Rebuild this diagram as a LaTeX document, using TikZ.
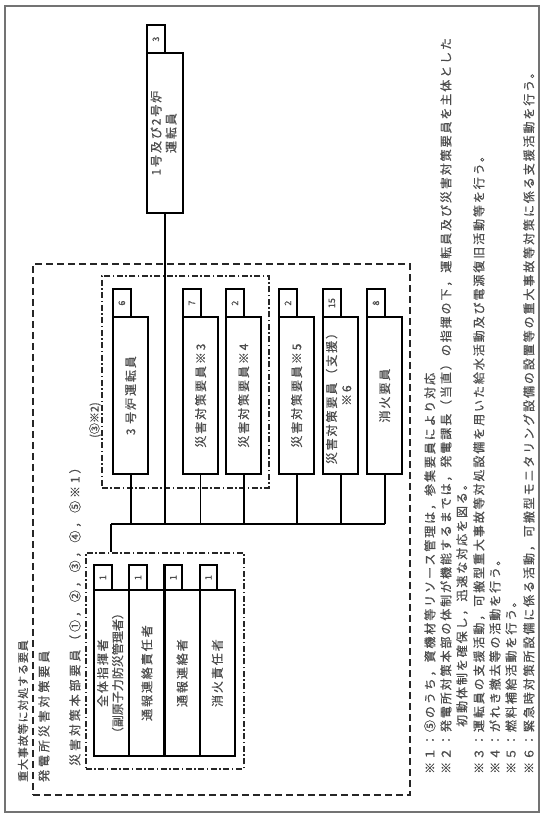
\documentclass[tikz,border=0pt]{standalone}
\usepackage{fontspec}
\newfontfamily\jpA{Noto Sans CJK JP}[LetterSpace=16,FakeBold=0.6]
\newfontfamily\jpB{Noto Sans CJK JP}[LetterSpace=24,FakeBold=0.6]
\newfontfamily\jpT{Noto Sans CJK JP}[LetterSpace=8,FakeBold=0.6]
\newfontfamily\jpN{Noto Sans CJK JP}[FakeBold=0.6]
\definecolor{txt}{gray}{0.3}
\newcommand\rt[1]{\rotatebox{90}{#1}}
\newcommand\rtt[2]{\rotatebox{90}{\begin{tabular}{@{}c@{}}#1\\#2\end{tabular}}}
\begin{document}
\begin{tikzpicture}[x=1pt,y=-1pt,
  pageframe/.style={draw=black!55,line width=1.2pt},
  outergrp/.style={draw=black!85,line width=1.8pt,dash pattern=on 7pt off 4pt},
  dotgrp/.style={draw=black!85,line width=1.5pt,dash pattern=on 6pt off 2.5pt on 1.5pt off 2.5pt},
  mainbox/.style={draw=black,line width=2.2pt,inner sep=0pt,anchor=north west,
     minimum width=35pt,minimum height=157pt,text=txt,font=\jpA\fontsize{12}{15}\selectfont},
  tabbox/.style={draw=black,line width=2.2pt,inner sep=0pt,anchor=north west,
     minimum width=17.5pt,minimum height=28pt,text=txt,font=\jpN\fontsize{9}{10}\selectfont},
  lowbox/.style={mainbox,minimum width=35.2pt,minimum height=166pt},
  lowtab/.style={tabbox,minimum width=17.6pt,minimum height=25pt},
  rotlbl/.style={rotate=90,anchor=west,inner sep=0pt,text=txt},
  note/.style={rotlbl,font=\jpA\fontsize{12}{15}\selectfont},
  conn/.style={draw=black,line width=2.2pt},
  thinconn/.style={draw=black,line width=1pt}
]
\useasboundingbox (0,0) rectangle (544,818);
\draw[pageframe] (5,6) rectangle (539,812);

% groups
\node[outergrp,inner sep=0pt,anchor=north west,minimum width=377pt,minimum height=531pt] (gOut) at (32,263) {};
\node[dotgrp,inner sep=0pt,anchor=north west,minimum width=167pt,minimum height=212pt] (gB) at (101,275) {};
\node[dotgrp,inner sep=0pt,anchor=north west,minimum width=158pt,minimum height=216pt] (gA) at (85,552) {};

% labels
\node[rotlbl,font=\jpT\fontsize{11}{13}\selectfont] (title) at (23,782) {重大事故等に対処する要員};
\node[rotlbl,font=\jpB\fontsize{12}{14}\selectfont] (hdr1) at (44,782) {発電所災害対策要員};
\node[rotlbl,font=\jpB\fontsize{12}{14}\selectfont] (hdr2) at (75,766) {災害対策本部要員（①，②，③，④，⑤※1）};
\node[rotlbl,font=\jpN\fontsize{11}{13}\selectfont] (hdr3) at (95,438) {(③※2)};

% top box
\node[tabbox] (tTop) at (146,24) {\rt{3}};
\node[mainbox,minimum width=36pt,minimum height=160pt] (mTop) at (146,52) {\rtt{1号及び2号炉}{運転員}};

% upper row
\node[tabbox] (t1) at (112,288) {\rt{6}};
\node[mainbox] (m1) at (112,316) {\rt{3 号炉運転員}};
\node[tabbox] (t2) at (182,288) {\rt{7}};
\node[mainbox] (m2) at (182,316) {\rt{災害対策要員※3}};
\node[tabbox] (t3) at (225,288) {\rt{2}};
\node[mainbox] (m3) at (225,316) {\rt{災害対策要員※4}};
\node[tabbox] (t4) at (278,288) {\rt{2}};
\node[mainbox] (m4) at (278,316) {\rt{災害対策要員※5}};
\node[tabbox] (t5) at (322,288) {\rt{15}};
\node[mainbox] (m5) at (322,316) {\rtt{災害対策要員（支援）}{※6}};
\node[tabbox] (t6) at (366,288) {\rt{8}};
\node[mainbox] (m6) at (366,316) {\rt{消火要員}};

% lower row
\node[lowtab] (u1) at (93,564) {\rt{1}};
\node[lowbox] (n1) at (93,589) {\rtt{全体指揮者}{\jpN（副原子力防災管理者）}};
\node[lowtab] (u2) at (128.2,564) {\rt{1}};
\node[lowbox] (n2) at (128.2,589) {\rt{通報連絡責任者}};
\node[lowtab] (u3) at (163.4,564) {\rt{1}};
\node[lowbox] (n3) at (163.4,589) {\rt{通報連絡者}};
\node[lowtab] (u4) at (198.6,564) {\rt{1}};
\node[lowbox] (n4) at (198.6,589) {\rt{消火責任者}};

% connectors
\coordinate (busL) at (111,524);
\coordinate (busR) at (m6.south |- busL);
\draw[conn] (busL) -- (busR);
\draw[conn] (busL) -- (busL |- gA.north);
\draw[conn] (mTop.south) -- (mTop.south |- busL);
\draw[conn] (m1.south) -- (m1.south |- busL);
\draw[thinconn] (m2.south) -- (m2.south |- busL);
\draw[conn] (m3.south) -- (m3.south |- busL);
\draw[conn] (m4.south) -- (m4.south |- busL);
\draw[conn] (m5.south) -- (m5.south |- busL);
\draw[conn] (m6.south) -- (m6.south |- busL);

% footnotes
\node[note] (fn1) at (430,774) {※１：⑤のうち，資機材等リソース管理は，参集要員により対応};
\node[note] (fn2) at (446,774) {※２：発電所対策本部の体制が機能するまでは，発電課長（当直）の指揮の下，運転員及び災害対策要員を主体とした};
\node[note] (fn2b) at (462,727) {初動体制を確保し，迅速な対応を図る。};
\node[note] (fn3) at (479,774) {※３：運転員の支援活動，可搬型重大事故等対処設備を用いた給水活動及び電源復旧活動等を行う。};
\node[note] (fn4) at (495,774) {※４：がれき撤去等の活動を行う。};
\node[note] (fn5) at (511,774) {※５：燃料補給活動を行う。};
\node[note] (fn6) at (529,774) {※６：緊急時対策所設備に係る活動，可搬型モニタリング設備の設置等の重大事故等対策に係る支援活動を行う。};
\end{tikzpicture}
\end{document}
